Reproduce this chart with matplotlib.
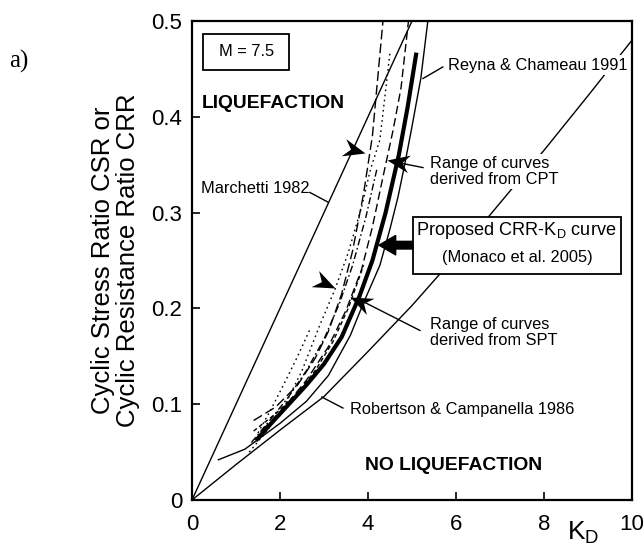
import matplotlib
matplotlib.use("Agg")
import matplotlib.pyplot as plt
from matplotlib import font_manager
from matplotlib.markers import MarkerStyle
from matplotlib.patches import Rectangle
from matplotlib.path import Path
from matplotlib.transforms import Affine2D

# ---- data (KD, CRR) ----
marchetti_kd = [0.0, 2.5, 5.0]
marchetti_crr = [0.0, 0.25, 0.5]

robertson_kd = [0, 1, 2, 3, 4, 5, 6, 7, 8, 9, 10]
robertson_crr = [0.0, 0.037, 0.073, 0.108, 0.155, 0.203, 0.255, 0.31, 0.365, 0.422, 0.48]

reyna_kd = [0.6, 1.2, 2.0, 2.6, 3.1, 3.6, 3.9, 4.27, 4.5, 4.68, 4.82, 4.98, 5.2, 5.36]
reyna_crr = [0.042, 0.053, 0.08, 0.103, 0.13, 0.172, 0.206, 0.245, 0.283, 0.316, 0.347, 0.385, 0.44, 0.5]

proposed_kd = [1.45, 1.8, 2.2, 2.6, 3.0, 3.4, 3.8, 4.1, 4.4, 4.7, 4.9, 5.1]
proposed_crr = [0.062, 0.08, 0.1, 0.12, 0.142, 0.17, 0.212, 0.25, 0.3, 0.36, 0.41, 0.467]

cpt_left_kd = [1.4, 1.9, 2.4, 2.8, 3.1, 3.4, 3.65, 3.9, 4.1, 4.34]
cpt_left_crr = [0.083, 0.097, 0.12, 0.148, 0.176, 0.215, 0.26, 0.32, 0.38, 0.5]

cpt_right_kd = [1.6, 2.1, 2.6, 3.1, 3.5, 3.85, 4.1, 4.33, 4.57, 4.75, 4.92]
cpt_right_crr = [0.073, 0.097, 0.125, 0.16, 0.198, 0.24, 0.285, 0.335, 0.386, 0.43, 0.5]

spt_dot_kd = [1.3, 1.7, 2.1, 2.5, 2.9, 3.25, 3.55, 3.85, 4.05, 4.27, 4.5]
spt_dot_crr = [0.05, 0.072, 0.098, 0.135, 0.182, 0.22, 0.258, 0.305, 0.344, 0.376, 0.467]

spt_dot2_kd = [1.5, 1.8, 2.1, 2.4, 2.7]
spt_dot2_crr = [0.07, 0.095, 0.122, 0.15, 0.18]

spt_dashdot_kd = [1.35, 1.8, 2.2, 2.6, 3.0, 3.35, 3.65, 3.95, 4.2]
spt_dashdot_crr = [0.06, 0.085, 0.108, 0.135, 0.168, 0.205, 0.245, 0.295, 0.345]

spt_dash_kd = [1.4, 1.9, 2.4, 2.8, 3.2, 3.55, 3.9]
spt_dash_crr = [0.072, 0.09, 0.112, 0.135, 0.165, 0.2, 0.245]

# range arrowheads: tip (KD, CRR) and pointing angle
head_kd = [3.93, 4.43, 3.25, 3.59]
head_crr = [0.362, 0.355, 0.221, 0.212]
head_angle = [-15, 170, -25, 155]

# leader lines (KD pairs, CRR pairs)
leaders = {
    "marchetti": ([2.68, 3.09], [0.321, 0.311]),
    "reyna": ([5.70, 5.25], [0.452, 0.44]),
    "cpt": ([5.25, 4.70], [0.347, 0.352]),
    "spt": ([5.18, 3.85], [0.177, 0.208]),
    "robertson": ([3.43, 2.95], [0.096, 0.1075]),
}

x_ticks = [0, 2, 4, 6, 8, 10]
y_ticks = [0, 0.1, 0.2, 0.3, 0.4, 0.5]
y_tick_labels = ["0", "0.1", "0.2", "0.3", "0.4", "0.5"]

plt.rcParams["font.family"] = ["Liberation Sans", "DejaVu Sans"]
plt.rcParams["mathtext.default"] = "regular"

names = {f.name for f in font_manager.fontManager.ttflist}
if "Liberation Sans Narrow" in names:
    note_family, note_scale = "Liberation Sans Narrow", 1.0
else:
    note_family, note_scale = "Liberation Sans", 0.84


def note(size, bold=False):
    return dict(family=note_family, fontsize=size * note_scale,
                fontweight="bold" if bold else "normal")


head_path = Path([(0, 0), (-2, 0.8), (-1.35, 0), (-2, -0.8), (0, 0)],
                 [Path.MOVETO, Path.LINETO, Path.LINETO, Path.LINETO, Path.CLOSEPOLY])

fig = plt.figure(figsize=(6.43, 5.5), dpi=100)
ax = fig.add_axes([0.2986, 0.0909, 0.6843, 0.8709])

thin = dict(color="black", lw=1.0)
ax.plot(marchetti_kd, marchetti_crr, **thin)
ax.plot(robertson_kd, robertson_crr, **thin)
ax.plot(reyna_kd, reyna_crr, **thin)
ax.plot(cpt_left_kd, cpt_left_crr, dashes=(7, 3), **thin)
ax.plot(cpt_right_kd, cpt_right_crr, dashes=(6, 3), **thin)
ax.plot(spt_dot_kd, spt_dot_crr, dashes=(1.2, 2.5), **thin)
ax.plot(spt_dot2_kd, spt_dot2_crr, dashes=(1.2, 2.5), **thin)
ax.plot(spt_dashdot_kd, spt_dashdot_crr, dashes=(5, 2, 1.2, 2), **thin)
ax.plot(spt_dash_kd, spt_dash_crr, dashes=(3, 2), **thin)
ax.plot(proposed_kd, proposed_crr, color="black", lw=3.0, solid_capstyle="butt")

for kd, crr, ang in zip(head_kd, head_crr, head_angle):
    m = MarkerStyle(head_path, transform=Affine2D().rotate_deg(ang))
    ax.plot([kd], [crr], ls="none", marker=m, ms=32, color="black", mew=0, zorder=5)

for xs, ys in leaders.values():
    ax.plot(xs, ys, **thin)

# boxes
ax.add_patch(Rectangle((0.025, 0.898), 0.195, 0.075, transform=ax.transAxes,
                       fc="white", ec="black", lw=1.3, zorder=4))
ax.text(1.23, 0.468, "M = 7.5", ha="center", va="center", zorder=5, **note(14))

ax.add_patch(Rectangle((0.502, 0.472), 0.473, 0.119, transform=ax.transAxes,
                       fc="white", ec="black", lw=1.3, zorder=4))
ax.text(7.36, 0.281, "Proposed CRR-K$_D$ curve", ha="center", va="center", zorder=5, **note(15.5))
ax.text(7.39, 0.253, "(Monaco et al. 2005)", ha="center", va="center", zorder=5, **note(14))

ax.annotate("", xy=(4.25, 0.266), xytext=(5.02, 0.266), zorder=6,
            arrowprops=dict(arrowstyle="simple,head_length=1.2,head_width=1.4,tail_width=0.55",
                            mutation_scale=10, fc="black", ec="black", shrinkA=0, shrinkB=0))

white = dict(facecolor="white", edgecolor="none", pad=1.5)
ax.text(0.23, 0.414, "LIQUEFACTION", ha="left", va="center", **note(16.5, True))
ax.text(3.93, 0.0365, "NO LIQUEFACTION", ha="left", va="center", **note(16.5, True))
ax.text(0.2, 0.325, "Marchetti 1982", ha="left", va="center", **note(14))
ax.text(5.82, 0.454, "Reyna & Chameau 1991", ha="left", va="center", bbox=white, zorder=4, **note(14))
ax.text(5.41, 0.343, "Range of curves\nderived from CPT", ha="left", va="center",
        linespacing=1.1, bbox=white, zorder=4, **note(14))
ax.text(5.41, 0.175, "Range of curves\nderived from SPT", ha="left", va="center",
        linespacing=1.1, bbox=white, zorder=4, **note(14))
ax.text(3.59, 0.094, "Robertson & Campanella 1986", ha="left", va="center", **note(14))

ax.set_xlim(0, 10)
ax.set_ylim(0, 0.5)
ax.set_xticks(x_ticks)
ax.set_yticks(y_ticks)
ax.set_yticklabels(y_tick_labels)
ax.tick_params(direction="in", length=6, width=1.2, labelsize=16)
ax.tick_params(axis="x", pad=10)
ax.tick_params(axis="y", pad=7)
for s in ax.spines.values():
    s.set_linewidth(1.6)

ax.text(-0.174, 0.5, "Cyclic Stress Ratio CSR or\nCyclic Resistance Ratio CRR",
        transform=ax.transAxes, rotation=90, ha="center", va="center",
        fontsize=18.5, linespacing=1.05)
ax.text(8.52, -0.034, "K$_D$", ha="left", va="center", fontsize=19, clip_on=False)
fig.text(9 / 643, 1 - 61 / 550, "a)", family="Liberation Serif", fontsize=18,
         ha="left", va="center")

fig.savefig("out.png", dpi=100)
